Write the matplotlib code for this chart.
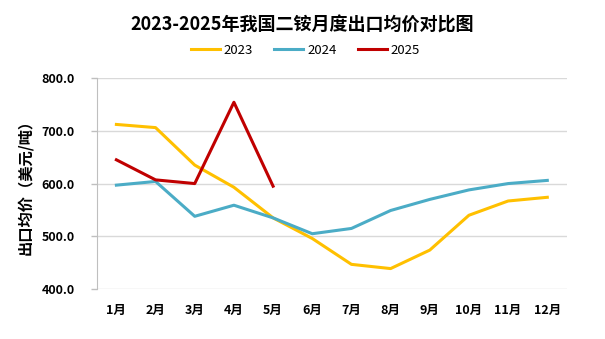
import matplotlib
matplotlib.use("Agg")
import matplotlib.pyplot as plt
import numpy as np

plt.rcParams['font.family'] = ['Noto Sans CJK SC', 'DejaVu Sans']

months = ["1月", "2月", "3月", "4月", "5月", "6月", "7月", "8月", "9月", "10月", "11月", "12月"]
price_2023 = [712, 706, 635, 593, 535, 496, 447, 439, 474, 540, 567, 574]
price_2024 = [597, 604, 538, 559, 535, 505, 515, 549, 570, 588, 600, 606]
price_2025 = [645, 607, 600, 754, 595]

colors = {"2023": "#FFC000", "2024": "#4BACC6", "2025": "#C00000"}

fig = plt.figure(figsize=(6.05, 3.39), dpi=100)
ax = fig.add_axes([0.160, 0.147, 0.777, 0.623])

x = np.arange(len(months))
ax.plot(x, price_2023, color=colors["2023"], lw=2.2, label="2023")
ax.plot(x, price_2024, color=colors["2024"], lw=2.2, label="2024")
ax.plot(x[:len(price_2025)], price_2025, color=colors["2025"], lw=2.2, label="2025")

ax.set_xlim(-0.5, len(months) - 0.5)
ax.set_ylim(400, 800)
ax.set_yticks([400, 500, 600, 700, 800])
ax.set_yticklabels(["%.1f" % v for v in [400, 500, 600, 700, 800]], fontweight='bold', fontsize=9)
ax.set_xticks(x)
ax.set_xticklabels(months, fontweight='bold', fontsize=9)
ax.tick_params(axis='x', length=0, pad=11)
ax.tick_params(axis='y', length=4, width=1, color='#BFBFBF', pad=12)

ax.grid(axis='y', color='#D9D9D9', lw=1)
ax.set_axisbelow(True)
for s in ['top', 'right', 'bottom']:
    ax.spines[s].set_visible(False)
ax.spines['left'].set_color('#BFBFBF')

ax.set_ylabel("出口均价（美元/吨）", fontsize=11, fontweight='bold', labelpad=6)

fig.suptitle("2023-2025年我国二铵月度出口均价对比图", fontsize=13, fontweight='bold', y=0.955)
fig.legend(loc='center', bbox_to_anchor=(0.505, 0.852), ncol=3, frameon=False,
           fontsize=9.5, handlelength=2.2, handletextpad=0.3, columnspacing=1.6)

fig.savefig("out.png", dpi=100)
